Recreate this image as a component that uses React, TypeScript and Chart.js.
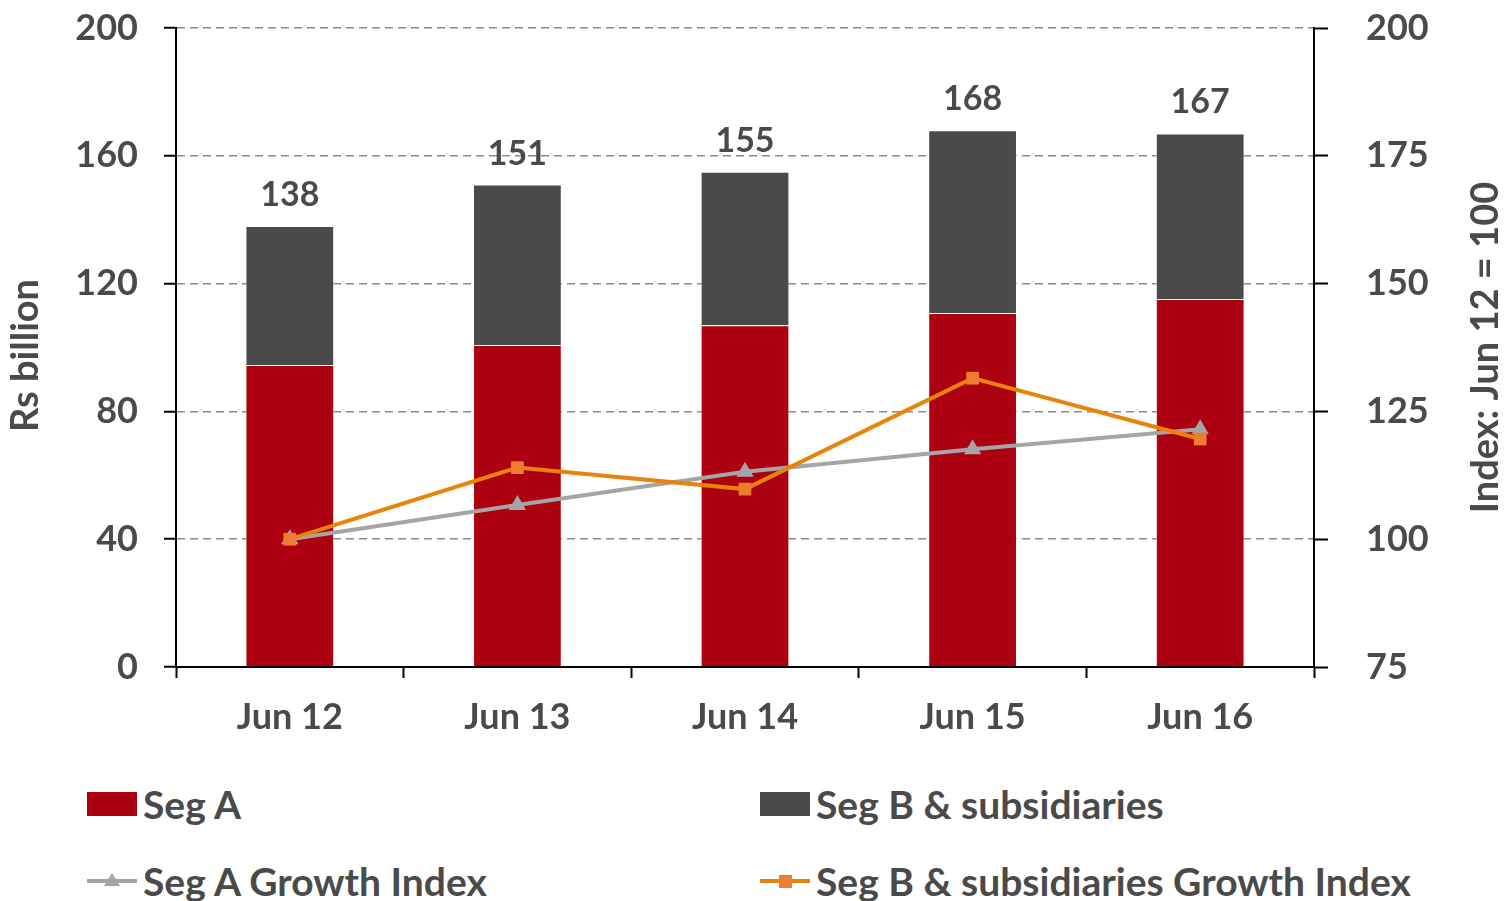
import React, { useEffect, useRef } from "react";
import { Chart, registerables } from "chart.js";
Chart.register(...registerables);

const categories = ["Jun 12", "Jun 13", "Jun 14", "Jun 15", "Jun 16"];
const segA = [94.5, 100.8, 107.0, 110.8, 115.2];
const segB = [43.5, 50.2, 48.0, 57.2, 51.8];
const segAIndex = [100, 106.7, 113.2, 117.6, 121.5];
const segBIndex = [100, 114.0, 109.8, 131.5, 119.6];
const leftAxis = { min: 0, max: 200, step: 40, title: "Rs billion" };
const rightAxis = { min: 75, max: 200, step: 25, title: "Index: Jun 12 = 100" };

const FONT = "Lato, 'Open Sans', sans-serif";
const TXT = "#4a4a4a";
const RED = "#ad0010";
const DARK = "#4a4a4a";
const GRAY = "#a5a5a5";
const ORANGE = "#e8840c";
const ORANGE_M = "#ed7d31";

const labelsPlugin = {
  id: "customLabels",
  afterDatasetsDraw(chart: any) {
    const ctx = chart.ctx;
    const meta = chart.getDatasetMeta(1);
    ctx.save();
    ctx.font = `bold 34px ${FONT}`;
    ctx.fillStyle = TXT;
    ctx.textAlign = "center";
    ctx.textBaseline = "alphabetic";
    meta.data.forEach((el: any, i: number) => {
      const total = Math.round(segA[i] + segB[i]);
      ctx.fillText(String(total), el.x, el.y - 20);
    });
    ctx.restore();
  },
  afterDraw(chart: any) {
    const ctx = chart.ctx;
    const ca = chart.chartArea;
    const cy = (ca.top + ca.bottom) / 2;
    ctx.save();
    ctx.font = `bold 38px ${FONT}`;
    ctx.fillStyle = TXT;
    ctx.textAlign = "center";
    ctx.textBaseline = "middle";
    ctx.translate(26, cy + 8);
    ctx.rotate(-Math.PI / 2);
    ctx.fillText(leftAxis.title, 0, 0);
    ctx.restore();
    ctx.save();
    ctx.font = `bold 38px ${FONT}`;
    ctx.fillStyle = TXT;
    ctx.textAlign = "center";
    ctx.textBaseline = "middle";
    ctx.translate(1486, cy);
    ctx.rotate(-Math.PI / 2);
    ctx.fillText(rightAxis.title, 0, 0);
    ctx.restore();
  },
};

function LegendItem({ kind, color, label }: { kind: string; color: string; label: string }) {
  let sym: any;
  if (kind === "box") {
    sym = <svg width={52} height={26}><rect x={0} y={1} width={50} height={24} fill={color} /></svg>;
  } else if (kind === "tri") {
    sym = (
      <svg width={52} height={26}>
        <line x1={0} y1={13} x2={50} y2={13} stroke={color} strokeWidth={4} />
        <polygon points="25,5 33,18 17,18" fill={color} />
      </svg>
    );
  } else {
    sym = (
      <svg width={52} height={26}>
        <line x1={0} y1={13} x2={50} y2={13} stroke={ORANGE} strokeWidth={4} />
        <rect x={19} y={7} width={13} height={13} fill={color} />
      </svg>
    );
  }
  return (
    <div style={{ display: "flex", alignItems: "center", gap: 4, height: 44 }}>
      {sym}
      <span style={{ font: `bold 39px ${FONT}`, color: TXT, whiteSpace: "nowrap", lineHeight: "44px" }}>{label}</span>
    </div>
  );
}

const noPad = (w: number) => (s: any) => {
  s.width = w;
  s.paddingTop = 0;
  s.paddingBottom = 0;
};

export default function App() {
  const ref = useRef<HTMLCanvasElement>(null);
  useEffect(() => {
    document.body.style.margin = "0";
    const chart = new Chart(ref.current as HTMLCanvasElement, {
      type: "bar",
      data: {
        labels: categories,
        datasets: [
          { type: "bar", label: "Seg A", data: segA, backgroundColor: RED, borderColor: "rgba(255,255,255,0.5)", borderWidth: 1, yAxisID: "y", order: 2, barPercentage: 0.39, categoryPercentage: 1 },
          { type: "bar", label: "Seg B & subsidiaries", data: segB, backgroundColor: DARK, borderColor: "rgba(255,255,255,0.5)", borderWidth: 1, yAxisID: "y", order: 2, barPercentage: 0.39, categoryPercentage: 1 },
          { type: "line", label: "Seg A Growth Index", data: segAIndex, borderColor: GRAY, backgroundColor: GRAY, borderWidth: 4, pointStyle: "triangle", pointRadius: 10, pointBorderWidth: 0, yAxisID: "y1", order: 1 },
          { type: "line", label: "Seg B & subsidiaries Growth Index", data: segBIndex, borderColor: ORANGE, backgroundColor: ORANGE_M, pointBackgroundColor: ORANGE_M, borderWidth: 4, pointStyle: "rect", pointRadius: 9, pointBorderWidth: 0, yAxisID: "y1", order: 0 },
        ] as any,
      },
      options: {
        responsive: false,
        animation: false,
        layout: { autoPadding: false, padding: { top: 28, left: 0, right: 0, bottom: 0 } },
        plugins: { legend: { display: false }, tooltip: { enabled: false } },
        scales: {
          x: {
            stacked: true,
            grid: { offset: true, drawOnChartArea: false, drawTicks: true, tickLength: 11, tickColor: "#000", tickWidth: 2 },
            border: { color: "#000", width: 2 },
            ticks: { color: TXT, font: { family: FONT, size: 36, weight: "bold" }, padding: 18 },
            afterFit: (s: any) => { s.height = 93; s.paddingLeft = 0; s.paddingRight = 0; },
          },
          y: {
            stacked: true,
            position: "left",
            min: leftAxis.min,
            max: leftAxis.max,
            ticks: { stepSize: leftAxis.step, color: TXT, font: { family: FONT, size: 36, weight: "bold" }, padding: 26 },
            grid: { color: "#8c8c8c", lineWidth: 1.5, drawTicks: true, tickLength: 12, tickColor: "#000", tickWidth: 2 },
            border: { color: "#000", width: 2, dash: [8, 5] },
            afterFit: noPad(176),
          },
          y1: {
            position: "right",
            min: rightAxis.min,
            max: rightAxis.max,
            ticks: { stepSize: rightAxis.step, color: TXT, font: { family: FONT, size: 36, weight: "bold" }, padding: 38 },
            grid: { drawOnChartArea: false, drawTicks: true, tickLength: 14, tickColor: "#000", tickWidth: 2 },
            border: { color: "#000", width: 2 },
            afterFit: noPad(190),
          },
        },
      } as any,
      plugins: [labelsPlugin],
    });
    return () => chart.destroy();
  }, []);
  return (
    <div style={{ position: "absolute", left: 0, top: 0, width: 1504, height: 901, background: "#fff", overflow: "hidden" }}>
      <canvas ref={ref} width={1504} height={760} style={{ position: "absolute", left: 0, top: 0 }} />
      <div style={{ position: "absolute", left: 87, top: 782 }}>
        <LegendItem kind="box" color={RED} label="Seg A" />
      </div>
      <div style={{ position: "absolute", left: 760, top: 782 }}>
        <LegendItem kind="box" color={DARK} label="Seg B & subsidiaries" />
      </div>
      <div style={{ position: "absolute", left: 87, top: 859 }}>
        <LegendItem kind="tri" color={GRAY} label="Seg A Growth Index" />
      </div>
      <div style={{ position: "absolute", left: 760, top: 859 }}>
        <LegendItem kind="sq" color={ORANGE_M} label="Seg B & subsidiaries Growth Index" />
      </div>
    </div>
  );
}
